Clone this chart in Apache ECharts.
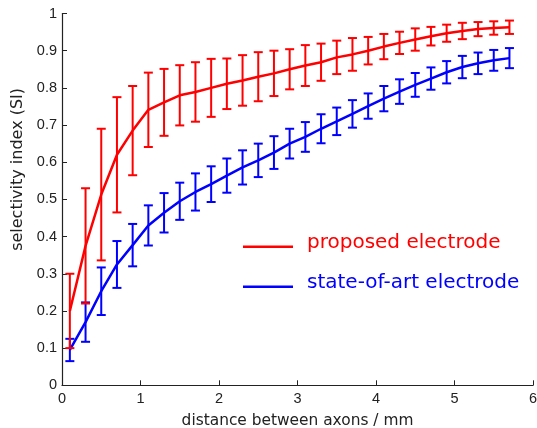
<!DOCTYPE html>
<html>
<head>
<meta charset="utf-8">
<script src="https://cdn.jsdelivr.net/npm/echarts@6/dist/echarts.min.js"></script>
<style>
html,body{margin:0;padding:0;background:#fff;}
#chart{width:537px;height:428px;}
</style>
</head>
<body>
<div id="chart"></div>
<script>
var distances = [0.1, 0.3, 0.5, 0.7, 0.9, 1.1, 1.3, 1.5, 1.7, 1.9, 2.1, 2.3, 2.5, 2.7, 2.9,
                 3.1, 3.3, 3.5, 3.7, 3.9, 4.1, 4.3, 4.5, 4.7, 4.9, 5.1, 5.3, 5.5, 5.7];
var proposedMean = [0.20, 0.375, 0.513, 0.62, 0.685, 0.741, 0.761, 0.78, 0.789, 0.80, 0.811, 0.82, 0.83, 0.839, 0.85,
                    0.86, 0.869, 0.882, 0.89, 0.90, 0.911, 0.921, 0.93, 0.939, 0.947, 0.953, 0.958, 0.961, 0.963];
var proposedErr  = [0.10, 0.155, 0.177, 0.155, 0.12, 0.10, 0.09, 0.081, 0.08, 0.078, 0.068, 0.068, 0.066, 0.061, 0.054,
                    0.055, 0.05, 0.045, 0.044, 0.037, 0.034, 0.03, 0.03, 0.025, 0.023, 0.022, 0.019, 0.018, 0.018];
var stateMean = [0.095, 0.17, 0.253, 0.325, 0.377, 0.43, 0.464, 0.495, 0.52, 0.541, 0.564, 0.586, 0.605, 0.626, 0.65,
                 0.668, 0.69, 0.71, 0.73, 0.751, 0.771, 0.79, 0.808, 0.825, 0.842, 0.856, 0.866, 0.874, 0.88];
var stateErr  = [0.03, 0.053, 0.064, 0.063, 0.057, 0.054, 0.053, 0.05, 0.05, 0.048, 0.046, 0.046, 0.045, 0.044, 0.04,
                 0.04, 0.039, 0.037, 0.037, 0.034, 0.034, 0.033, 0.032, 0.03, 0.03, 0.03, 0.029, 0.028, 0.027];
var seriesNames = ['proposed electrode', 'state-of-art electrode'];
var seriesColors = ['#ff0000', '#0000ff'];

function lineData(means) {
  return distances.map(function (d, i) { return [d, means[i]]; });
}
function errData(means, errs) {
  return distances.map(function (d, i) { return [d, means[i] - errs[i], means[i] + errs[i]]; });
}
function errRender(color) {
  return function (params, api) {
    var x = api.value(0);
    var lo = api.coord([x, api.value(1)]);
    var hi = api.coord([x, api.value(2)]);
    var hw = 4.5;
    var st = { stroke: color, lineWidth: 2 };
    return {
      type: 'group',
      children: [
        { type: 'line', shape: { x1: lo[0], y1: lo[1], x2: hi[0], y2: hi[1] }, style: st },
        { type: 'line', shape: { x1: lo[0] - hw, y1: lo[1], x2: lo[0] + hw, y2: lo[1] }, style: st },
        { type: 'line', shape: { x1: hi[0] - hw, y1: hi[1], x2: hi[0] + hw, y2: hi[1] }, style: st }
      ]
    };
  };
}

var chart = echarts.init(document.getElementById('chart'), null, { renderer: 'canvas' });
var axisFont = { fontFamily: 'Liberation Sans', fontSize: 14.5, color: '#222' };
chart.setOption({
  animation: false,
  backgroundColor: '#fff',
  grid: { left: 62, right: 4, top: 13.5, bottom: 42.7, containLabel: false, outerBoundsMode: 'none' },
  xAxis: {
    type: 'value', min: 0, max: 6, interval: 1,
    name: 'distance between axons / mm', nameLocation: 'middle', nameGap: 28,
    nameTextStyle: { fontFamily: 'DejaVu Sans', fontSize: 15.4, color: '#222' },
    axisLine: { show: true, lineStyle: { color: '#222', width: 1.2 } },
    axisTick: { show: true, inside: true, length: 5, lineStyle: { color: '#222' } },
    axisLabel: Object.assign({ margin: 6 }, axisFont),
    splitLine: { show: false }
  },
  yAxis: {
    type: 'value', min: 0, max: 1, interval: 0.1,
    name: 'selectivity index (SI)', nameLocation: 'middle', nameGap: 34,
    nameTextStyle: { fontFamily: 'DejaVu Sans', fontSize: 16, color: '#222', padding: [0, 0, 0, 60] },
    axisLine: { show: true, lineStyle: { color: '#222', width: 1.2 } },
    axisTick: { show: true, inside: true, length: 5, lineStyle: { color: '#222' } },
    axisLabel: Object.assign({ margin: 5 }, axisFont),
    splitLine: { show: false }
  },
  legend: {
    orient: 'vertical', left: 243, top: 232.5, padding: 0, itemGap: 20,
    itemWidth: 50, itemHeight: 11,
    icon: 'path://M0,0L50,0L50,0Z M0,8.5L50,8.5L50,11L0,11Z',
    itemStyle: { borderWidth: 0 },
    textStyle: { fontFamily: 'DejaVu Sans', fontSize: 20, lineHeight: 20, padding: [0, 0, 0, 9] },
    data: [
      { name: seriesNames[0], textStyle: { color: seriesColors[0] } },
      { name: seriesNames[1], textStyle: { color: seriesColors[1] } }
    ]
  },
  series: [
    { name: seriesNames[1], type: 'line', data: lineData(stateMean), showSymbol: false, symbol: 'none',
      lineStyle: { color: seriesColors[1], width: 2.5 }, itemStyle: { color: seriesColors[1] }, z: 2 },
    { name: seriesNames[1] + ' err', type: 'custom', data: errData(stateMean, stateErr),
      renderItem: errRender(seriesColors[1]), encode: { x: 0, y: [1, 2] }, z: 2 },
    { name: seriesNames[0], type: 'line', data: lineData(proposedMean), showSymbol: false, symbol: 'none',
      lineStyle: { color: seriesColors[0], width: 2.5 }, itemStyle: { color: seriesColors[0] }, z: 3 },
    { name: seriesNames[0] + ' err', type: 'custom', data: errData(proposedMean, proposedErr),
      renderItem: errRender(seriesColors[0]), encode: { x: 0, y: [1, 2] }, z: 3 }
  ]
});
</script>
</body>
</html>
